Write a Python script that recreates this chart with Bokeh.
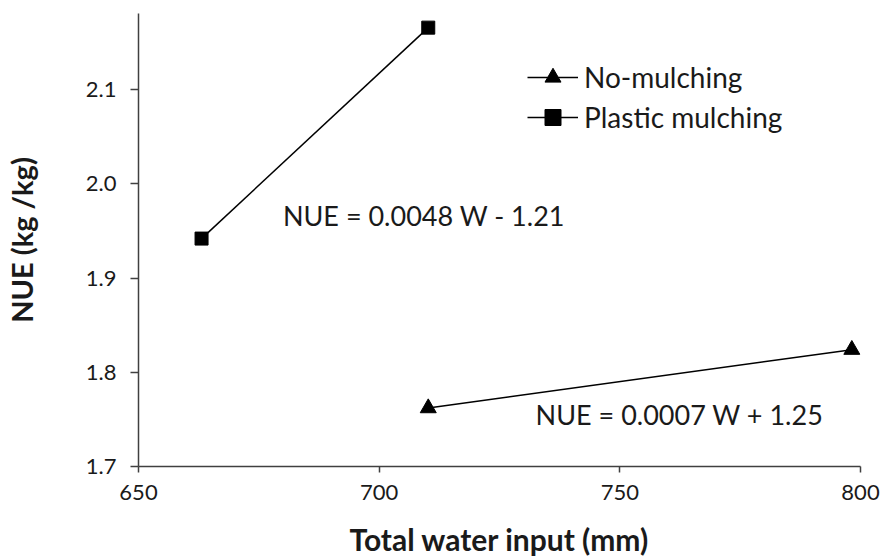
from bokeh.plotting import figure
from bokeh.models import Label, Legend, LegendItem, FixedTicker, PrintfTickFormatter, Range1d
from bokeh.embed import file_html
from bokeh.resources import INLINE

# data
nomulch_w = [710.2, 798.2]
nomulch_nue = [1.762, 1.824]
plastic_w = [663.1, 710.2]
plastic_nue = [1.942, 2.166]
x_ticks = [650, 700, 750, 800]
y_ticks = [1.7, 1.8, 1.9, 2.0, 2.1]
series_names = ["No-mulching", "Plastic mulching"]
eq_texts = ["NUE = 0.0048 W - 1.21", "NUE = 0.0007 W + 1.25"]

FONT = "Lato"
TXT = "#1a1a1a"
AX = "#404040"

p = figure(width=882, height=559, output_backend="svg", toolbar_location=None,
           x_range=Range1d(650, 800), y_range=Range1d(1.7, 2.181),
           min_border_left=138, min_border_right=22, min_border_top=13, min_border_bottom=92,
           background_fill_color="white", border_fill_color="white")
p.outline_line_color = None
p.grid.visible = False

for ax in (p.xaxis[0], p.yaxis[0]):
    ax.axis_line_color = AX
    ax.axis_line_width = 1.5
    ax.major_tick_line_color = AX
    ax.major_tick_line_width = 1.5
    ax.major_tick_in = 0
    ax.minor_tick_line_color = None
    ax.major_label_text_font = FONT
    ax.major_label_text_font_size = "22px"
    ax.major_label_text_color = TXT
    ax.axis_label_text_font = FONT
    ax.axis_label_text_font_style = "bold"
    ax.axis_label_text_color = TXT

p.xaxis.ticker = FixedTicker(ticks=x_ticks)
p.yaxis.ticker = FixedTicker(ticks=y_ticks)
p.yaxis.formatter = PrintfTickFormatter(format="%.1f")
p.xaxis.major_tick_out = 6
p.yaxis.major_tick_out = 8
p.xaxis.major_label_standoff = 12
p.yaxis.major_label_standoff = 14
p.xaxis.axis_label = "Total water input (mm)"
p.yaxis.axis_label = "NUE (kg /kg)"
p.xaxis.axis_label_text_font_size = "30px"
p.yaxis.axis_label_text_font_size = "29px"
p.xaxis.axis_label_standoff = 18
p.yaxis.axis_label_standoff = 44

l1 = p.line(nomulch_w, nomulch_nue, line_color="black", line_width=1.5)
m1 = p.scatter(nomulch_w, nomulch_nue, marker="triangle", size=16, fill_color="black", line_color="black")
l2 = p.line(plastic_w, plastic_nue, line_color="black", line_width=1.5)
m2 = p.scatter(plastic_w, plastic_nue, marker="square", size=13, fill_color="black", line_color="black")

legend = Legend(items=[LegendItem(label=series_names[0], renderers=[l1, m1]),
                       LegendItem(label=series_names[1], renderers=[l2, m2])],
                location=(389, 329), padding=0, margin=0, spacing=0,
                glyph_width=51, glyph_height=40, label_standoff=6,
                label_text_font=FONT, label_text_font_size="28px", label_text_color=TXT,
                border_line_color=None, background_fill_alpha=0)
p.add_layout(legend, "center")

p.add_layout(Label(x=680.0, y=1.966, text=eq_texts[0], text_font=FONT, text_font_size="27px",
                   text_color=TXT, text_baseline="middle", text_align="left"))
p.add_layout(Label(x=732.5, y=1.755, text=eq_texts[1], text_font=FONT, text_font_size="27px",
                   text_color=TXT, text_baseline="middle", text_align="left"))

open("out.html", "w").write(file_html(p, INLINE))
